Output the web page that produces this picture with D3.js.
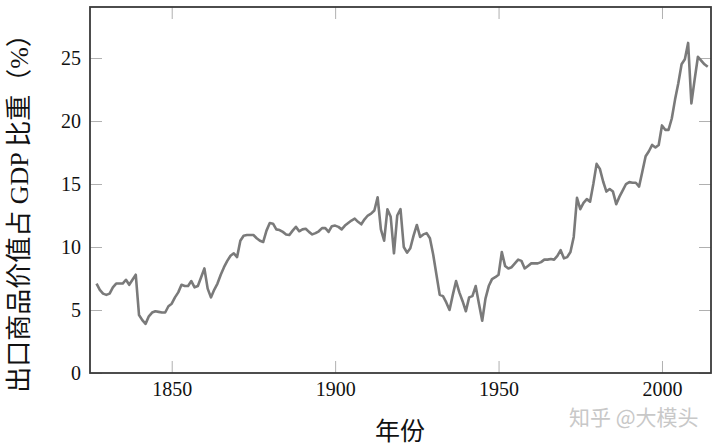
<!DOCTYPE html>
<html>
<head>
<meta charset="utf-8">
<script src="https://cdn.jsdelivr.net/npm/d3@7"></script>
<style>
  body { margin: 0; background: #fff; }
  svg text { font-family: "Liberation Serif", "Noto Sans CJK SC", serif; }
</style>
</head>
<body>
<div id="chart"></div>
<script>
// export value share of GDP (%), one value per year starting at startYear
var startYear = 1827;
var exportShare = [
  7.1, 6.6, 6.3, 6.2, 6.3, 6.8, 7.1, 7.1, 7.1, 7.4,      // 1827-1836
  7.0, 7.4, 7.8, 4.6, 4.2, 3.9, 4.5, 4.8, 4.9, 4.85,     // 1837-1846
  4.8, 4.8, 5.3, 5.5, 6.0, 6.4, 7.0, 6.9, 6.9, 7.3,      // 1847-1856
  6.8, 6.9, 7.6, 8.3, 6.7, 6.0, 6.6, 7.1, 7.8, 8.4,      // 1857-1866
  8.9, 9.3, 9.5, 9.2, 10.5, 10.9, 10.95, 10.95, 10.95, 10.7, // 1867-1876
  10.5, 10.4, 11.3, 11.9, 11.85, 11.4, 11.35, 11.2, 11.0, 10.95, // 1877-1886
  11.3, 11.6, 11.25, 11.4, 11.45, 11.2, 11.0, 11.1, 11.25, 11.5, // 1887-1896
  11.5, 11.2, 11.65, 11.7, 11.6, 11.4, 11.7, 11.9, 12.1, 12.25,  // 1897-1906
  12.0, 11.8, 12.2, 12.5, 12.65, 12.9, 13.95, 11.4, 10.5, 13.0,  // 1907-1916
  12.4, 9.5, 12.5, 13.0, 10.0, 9.55, 9.9, 10.9, 11.75, 10.8,     // 1917-1926
  11.0, 11.1, 10.7, 9.4, 7.8, 6.2, 6.1, 5.6, 5.0, 6.2,           // 1927-1936
  7.3, 6.4, 5.7, 4.9, 6.0, 6.1, 6.9, 5.5, 4.15, 5.9,             // 1937-1946
  6.9, 7.45, 7.6, 7.8, 9.6, 8.5, 8.3, 8.4, 8.7, 9.0,             // 1947-1956
  8.9, 8.3, 8.5, 8.7, 8.7, 8.7, 8.8, 9.0, 9.0, 9.05,             // 1957-1966
  9.0, 9.3, 9.75, 9.1, 9.2, 9.6, 10.8, 13.9, 13.0, 13.5,         // 1967-1976
  13.8, 13.6, 15.0, 16.6, 16.2, 15.2, 14.4, 14.6, 14.4, 13.4,    // 1977-1986
  14.0, 14.5, 15.0, 15.15, 15.1, 15.1, 14.8, 16.0, 17.2, 17.6,   // 1987-1996
  18.1, 17.9, 18.1, 19.65, 19.3, 19.3, 20.2, 21.7, 23.0, 24.5,   // 1997-2006
  24.9, 26.2, 21.4, 23.3, 25.1, 24.8, 24.5, 24.3                 // 2007-2014
];
var years = exportShare.map(function (v, i) { return startYear + i; });

var xTicks = [1850, 1900, 1950, 2000];
var yTicks = [0, 5, 10, 15, 20, 25];
var xLabel = "年份";
var yLabel = "出口商品价值占 GDP 比重（%）";
var watermark = "知乎 @大模头";

var width = 720, height = 446;
var margin = {top: 7, right: 9, bottom: 73, left: 90};
var plotW = width - margin.left - margin.right;
var plotH = height - margin.top - margin.bottom;

var svg = d3.select("#chart").append("svg")
  .attr("width", width)
  .attr("height", height);

var x = d3.scaleLinear().domain([1825, 2015]).range([0, plotW]);
var y = d3.scaleLinear().domain([0, 29.05]).range([plotH, 0]);

var g = svg.append("g")
  .attr("transform", "translate(" + margin.left + "," + margin.top + ")");

// inward ticks on all four sides
var tickLen = 12;
function styleAxis(sel) {
  sel.select(".domain").remove();
  sel.selectAll(".tick line").attr("stroke", "#b0b0b0").attr("stroke-width", 1);
  sel.selectAll(".tick text")
    .attr("fill", "#111")
    .style("font-size", "20px");
}

g.append("g")
  .attr("transform", "translate(0," + plotH + ")")
  .call(d3.axisBottom(x).tickValues(xTicks).tickFormat(d3.format("d"))
    .tickSizeInner(-tickLen).tickSizeOuter(0).tickPadding(9))
  .call(styleAxis);

g.append("g")
  .call(d3.axisTop(x).tickValues(xTicks).tickFormat("")
    .tickSizeInner(-tickLen).tickSizeOuter(0))
  .call(styleAxis);

g.append("g")
  .call(d3.axisLeft(y).tickValues(yTicks)
    .tickSizeInner(-tickLen).tickSizeOuter(0).tickPadding(9))
  .call(styleAxis);

g.append("g")
  .attr("transform", "translate(" + plotW + ",0)")
  .call(d3.axisRight(y).tickValues(yTicks).tickFormat("")
    .tickSizeInner(-tickLen).tickSizeOuter(0))
  .call(styleAxis);

// frame
g.append("rect")
  .attr("x", 0).attr("y", 0)
  .attr("width", plotW).attr("height", plotH)
  .attr("fill", "none")
  .attr("stroke", "#3a3a3a")
  .attr("stroke-width", 1.8);

var line = d3.line()
  .x(function (d, i) { return x(years[i]); })
  .y(function (d) { return y(d); });

g.append("path")
  .datum(exportShare)
  .attr("fill", "none")
  .attr("stroke", "#7a7a7a")
  .attr("stroke-width", 2.6)
  .attr("stroke-linejoin", "round")
  .attr("d", line);

// axis titles
svg.append("text")
  .attr("x", 400)
  .attr("y", 440)
  .attr("text-anchor", "middle")
  .style("font-size", "25px")
  .attr("fill", "#111")
  .text(xLabel);

svg.append("text")
  .attr("transform", "translate(28," + (margin.top + plotH / 2 + 17) + ") rotate(-90)")
  .attr("text-anchor", "middle")
  .style("font-size", "26px")
  .attr("fill", "#111")
  .text(yLabel);

svg.append("text")
  .attr("x", 569)
  .attr("y", 425)
  .style("font-family", "'Noto Sans CJK SC', sans-serif")
  .style("font-size", "21px")
  .attr("fill", "#c8c8c8")
  .text(watermark);
</script>
</body>
</html>
